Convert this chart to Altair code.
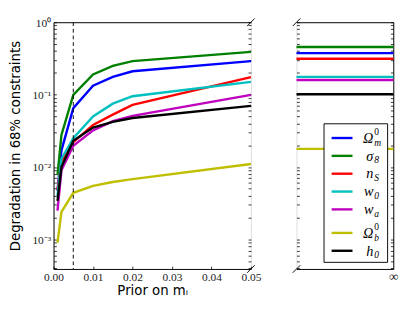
import altair as alt
import pandas as pd

# ---- data ----
priors = [0.001, 0.002, 0.005, 0.01, 0.015, 0.02, 0.05]
params = ["Omega_m", "sigma_8", "n_S", "w_0", "w_a", "Omega_b", "h_0"]
colors = ["#0000ff", "#008000", "#ff0000", "#00bfbf", "#bf00bf", "#bfbf00", "#000000"]

# legend text pieces (symbol, subscript, superscript)
legend_base = ["Ω", "σ", "n", "w", "w", "Ω", "h"]
legend_sub = ["m", "8", "S", "0", "a", "b", "0"]
legend_sup = ["0", "", "", "", "", "0", ""]

omega_m = [0.0047, 0.017, 0.065, 0.133, 0.176, 0.21, 0.29]
sigma_8 = [0.0077, 0.0277, 0.099, 0.19, 0.25, 0.29, 0.39]
n_s = [0.0048, 0.012, 0.022, 0.038, 0.053, 0.072, 0.174]
w_0 = [0.004, 0.013, 0.025, 0.05, 0.075, 0.095, 0.15]
w_a = [0.0025, 0.009, 0.0196, 0.032, 0.043, 0.051, 0.099]
omega_b = [0.0009, 0.0024, 0.0044, 0.0055, 0.0062, 0.0068, 0.011]
h_0 = [0.0034, 0.010, 0.023, 0.035, 0.042, 0.0475, 0.070]
series = [omega_m, sigma_8, n_s, w_0, w_a, omega_b, h_0]

# value with no prior (infinity)
no_prior = [0.374, 0.455, 0.313, 0.176, 0.159, 0.0178, 0.101]

x_ticks = [0.0, 0.01, 0.02, 0.03, 0.04, 0.05]
dashed_prior = [0.005]

rows = []
for i, (p, vals) in enumerate(zip(params, series)):
    for x, v in zip(priors, vals):
        rows.append({"param": p, "order": i, "prior": x, "value": v})
df = pd.DataFrame(rows)

rows2 = []
for i, (p, v) in enumerate(zip(params, no_prior)):
    for x in [0.0, 1.0]:
        rows2.append({"param": p, "order": i, "prior": x, "value": v})
df2 = pd.DataFrame(rows2)

leg = pd.DataFrame({"param": params, "idx": list(range(len(params))),
                    "base": legend_base, "sub": legend_sub, "sup": legend_sup})

W1, W2, H = 208, 102, 260
YMIN, YMAX = 3.9e-4, 1.0
y_vals = [k * 10 ** n for n in range(-4, 0) for k in range(1, 10) if k * 10 ** n >= YMIN] + [1.0]
label_expr = ("abs(datum.value-1)<1e-9 ? '10⁰' : abs(datum.value-0.1)<1e-9 ? '10⁻¹' : "
              "abs(datum.value-0.01)<1e-9 ? '10⁻²' : abs(datum.value-0.001)<1e-9 ? '10⁻³' : ''")

serif = "Liberation Serif"
sans = "DejaVu Sans"

color_scale = alt.Scale(domain=params, range=colors)

xs1 = alt.Scale(domain=[0, 0.05], nice=False, zero=False)
ys = alt.Scale(type="log", domain=[YMIN, YMAX], nice=False)

def tick_axis(orient, offset, values=None):
    kw = dict(orient=orient, offset=offset, labels=False, domain=False, ticks=True,
              tickSize=3, tickColor="#000", tickWidth=0.8, grid=False, title=None)
    if values is not None:
        kw["values"] = values
    return alt.Axis(**kw)

def top_axis():
    return alt.Axis(orient="top", labels=False, ticks=False, domain=True, domainColor="#000",
                    grid=False, title=None)

# ---- left panel ----
lines = alt.Chart(df).mark_line(strokeWidth=2.5).encode(
    x=alt.X("prior:Q", scale=xs1, axis=alt.Axis(
        values=x_ticks, format=".2f", labelFont=serif, labelFontSize=12, labelColor="#222",
        labelFlush=False, tickSize=0, domainColor="#000", grid=False,
        title="Prior on mᵢ", titleFont=sans, titleFontSize=14, titleFontWeight="normal",
        titleColor="#000", labelPadding=3, titlePadding=2)),
    y=alt.Y("value:Q", scale=ys, axis=alt.Axis(
        values=y_vals, labelExpr=label_expr, labelFont=serif, labelFontSize=12, labelColor="#222",
        labelFlush=False, labelOverlap=False, tickSize=0, domainColor="#000", grid=False,
        title="Degradation in 68% constraints", titleFont=sans, titleFontSize=14,
        titleFontWeight="normal", titleColor="#000", labelPadding=3, titlePadding=10)),
    color=alt.Color("param:N", scale=color_scale, legend=None),
    order="order:Q",
)

ghost_a = alt.Chart(df).mark_line(strokeOpacity=0).encode(
    x=alt.X("prior:Q", scale=xs1, axis=top_axis()),
    y=alt.Y("value:Q", scale=ys, axis=tick_axis("right", -W1, y_vals)),
    detail="param:N",
)
ghost_b = alt.Chart(df).mark_line(strokeOpacity=0).encode(
    x=alt.X("prior:Q", scale=xs1, axis=tick_axis("top", -H, x_ticks)),
    y=alt.Y("value:Q", scale=ys, axis=tick_axis("left", -W1, y_vals)),
    detail="param:N",
)

dash = alt.Chart(pd.DataFrame({"prior": dashed_prior})).mark_rule(
    color="black", strokeWidth=1, strokeDash=[4, 3]
).encode(x=alt.X("prior:Q", scale=xs1, axis=None))

brk = pd.DataFrame({"k": [0]})
brk_l1 = alt.Chart(brk).mark_rule(color="black", strokeWidth=1).encode(
    x=alt.value(W1 - 4), x2=alt.value(W1 + 4), y=alt.value(4), y2=alt.value(-4))
brk_l2 = alt.Chart(brk).mark_rule(color="black", strokeWidth=1).encode(
    x=alt.value(W1 - 4), x2=alt.value(W1 + 4), y=alt.value(H + 4), y2=alt.value(H - 4))

left = alt.layer(lines, ghost_a, ghost_b, dash, brk_l1, brk_l2).resolve_axis(
    x="independent", y="independent").properties(width=W1, height=H)

# ---- right panel ----
xs2 = alt.Scale(domain=[0, 1], nice=False, zero=False)
flat = alt.Chart(df2).mark_line(strokeWidth=2.5).encode(
    x=alt.X("prior:Q", scale=xs2, axis=alt.Axis(
        values=[1], labelExpr="'∞'", labelFont=serif, labelFontSize=14, labelColor="#222",
        labelFlush=False, tickSize=0, domainColor="#000", grid=False, title=None, labelPadding=1)),
    y=alt.Y("value:Q", scale=ys, axis=alt.Axis(
        orient="right", labels=False, ticks=False, domain=True, domainColor="#000",
        grid=False, title=None)),
    color=alt.Color("param:N", scale=color_scale, legend=None),
    order="order:Q",
)
ghost_c = alt.Chart(df2).mark_line(strokeOpacity=0).encode(
    x=alt.X("prior:Q", scale=xs2, axis=top_axis()),
    y=alt.Y("value:Q", scale=ys, axis=tick_axis("right", -W2, y_vals)),
    detail="param:N",
)
ghost_d = alt.Chart(df2).mark_line(strokeOpacity=0).encode(
    x=alt.X("prior:Q", scale=xs2, axis=None),
    y=alt.Y("value:Q", scale=ys, axis=tick_axis("left", -W2, y_vals)),
    detail="param:N",
)
brk_r1 = alt.Chart(brk).mark_rule(color="black", strokeWidth=1).encode(
    x=alt.value(-4), x2=alt.value(4), y=alt.value(4), y2=alt.value(-4))
brk_r2 = alt.Chart(brk).mark_rule(color="black", strokeWidth=1).encode(
    x=alt.value(-4), x2=alt.value(4), y=alt.value(H + 4), y2=alt.value(H - 4))

# ---- hand-made legend (box, coloured strokes, math-style labels) ----
leg_box = alt.Chart(brk).mark_rect(fill="white", stroke="black", strokeWidth=1).encode(
    x=alt.value(29), x2=alt.value(96), y=alt.value(107), y2=alt.value(253))
leg_base = alt.Chart(leg).transform_calculate(
    ly="122 + datum.idx * 18.8 + (datum.idx >= 5 ? 6 : 0)")
leg_sym = leg_base.mark_rule(strokeWidth=2.5).encode(
    x=alt.value(37), x2=alt.value(59), y=alt.Y("ly:Q", scale=None),
    color=alt.Color("param:N", scale=color_scale, legend=None))
leg_txt = leg_base.mark_text(align="right", baseline="middle", font=serif, fontSize=15,
                             fontStyle="italic", color="black").encode(
    x=alt.value(81), y=alt.Y("ly:Q", scale=None), text="base:N")
leg_sub = leg_base.mark_text(align="left", baseline="middle", font=serif, fontSize=10,
                             fontStyle="italic", color="black", dy=5).encode(
    x=alt.value(82), y=alt.Y("ly:Q", scale=None), text="sub:N")
leg_sup = leg_base.mark_text(align="left", baseline="middle", font=serif, fontSize=10,
                             color="black", dy=-6).encode(
    x=alt.value(82), y=alt.Y("ly:Q", scale=None), text="sup:N")

right = alt.layer(flat, ghost_c, ghost_d, brk_r1, brk_r2,
                  leg_box, leg_sym, leg_txt, leg_sub, leg_sup).resolve_axis(
    x="independent", y="independent").properties(width=W2, height=H)

chart = alt.hconcat(left, right, spacing=31).properties(
    padding={"left": 0, "top": 0, "right": 0, "bottom": 0}
).configure_view(stroke=None).configure(background="white")

chart.save("out.html", embed_options={"renderer": "svg", "actions": False})
